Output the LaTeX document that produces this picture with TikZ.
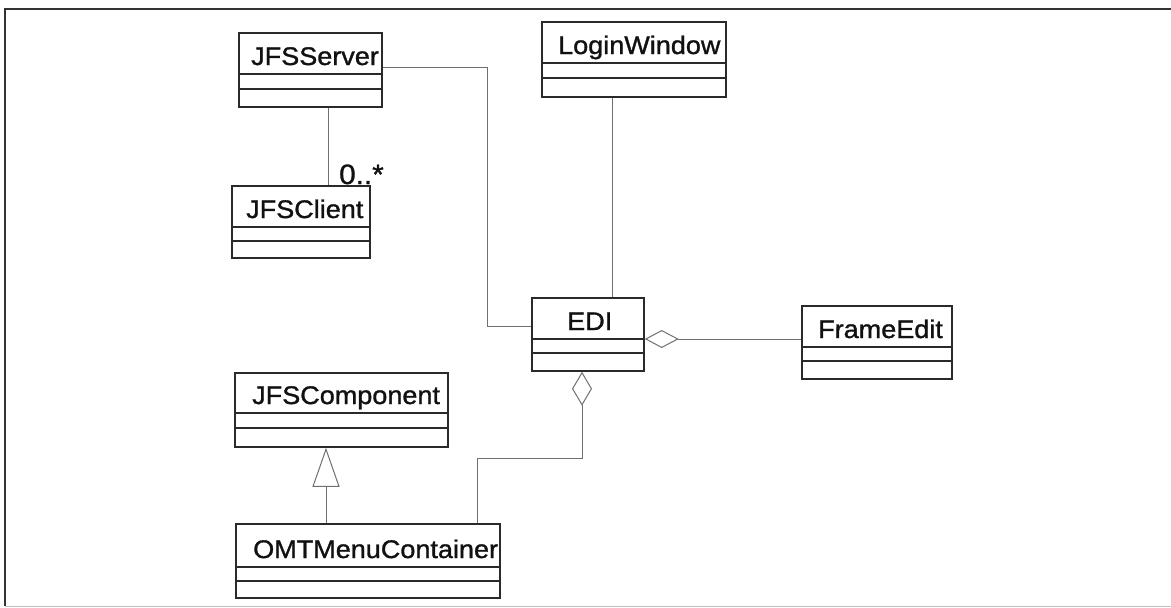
\documentclass[tikz,border=0pt]{standalone}
\usepackage{fontspec}
\setmainfont[FakeStretch=1.06, FakeBold=1.2]{Liberation Sans}
\usetikzlibrary{arrows.meta,fit}

\definecolor{boxline}{HTML}{2A2A2A}
\definecolor{wire}{HTML}{707070}
\definecolor{ink}{HTML}{111111}

\tikzset{
  classbox/.style={draw=boxline, line width=1.5pt, inner sep=0pt, rectangle},
  divider/.style={draw=boxline, line width=1.4pt},
  classname/.style={anchor=base west, inner sep=0pt, text=ink,
    font=\fontsize{25.5}{30}\selectfont},
  conn/.style={draw=wire, line width=1pt},
  agg/.style={conn, arrows={Diamond[open, length=34pt, width=#1]-}},
  gen/.style={conn, arrows={-Triangle[open, length=39pt, width=27pt]}},
}

% name, left, top, right, bottom, first divider, second divider, text x, title
\newcommand\umlclass[9]{%
  \node[classbox, fit={(#2,#3) (#4,#5)}] (#1) {};
  \draw[divider] (#2,#6) -- (#4,#6);
  \draw[divider] (#2,#7) -- (#4,#7);
  \node[classname] (#1-name) at (#8,{#6-9}) {#9};
}

\begin{document}
\begin{tikzpicture}[x=1pt, y=-1pt]
\useasboundingbox (0,0) rectangle (1171,608);

% outer frame
\draw[line width=2pt, draw=black!80] (1171,9) -- (5,9) -- (5,606);
\draw[line width=1pt, draw=black!25] (5,606) -- (1171,606);

% classes
\umlclass{srv}{239}{33}{382}{107}{74}{89}{251}{JFSServer}
\umlclass{cli}{232}{186}{370}{258}{227}{241}{246}{JFSClient}
\umlclass{login}{542}{22}{726}{97}{63}{78}{558}{LoginWindow}
\umlclass{edi}{532}{298}{644}{371}{339}{353}{567}{EDI}
\umlclass{frame}{802}{306}{952}{379}{347}{361}{818}{FrameEdit}
\umlclass{comp}{235}{373}{448}{447}{413}{428}{252}{JFSComponent}
\umlclass{omt}{236}{524}{500}{598}{567}{581}{253}{OMTMenuContainer}

% associations
\draw[conn] (srv.south -| 328,0) -- (cli.north -| 328,0);
\node[classname, font=\fontsize{28}{32}\selectfont] (mult) at (339,184) {0..*};
\draw[conn] (srv.east |- 0,67) -- (487,67) |- (edi.west |- 0,326);
\draw[conn] (login.south -| 612,0) -- (edi.north -| 612,0);

% aggregations
\draw[agg=18pt] (edi.east |- 0,339) -- (frame.west |- 0,339);
\draw[agg=20pt] (edi.south -| 582,0) -- (582,458) -| (omt.north -| 477,0);

% generalisation
\draw[gen] (omt.north -| 326,0) -- (comp.south -| 326,0);
\end{tikzpicture}
\end{document}
